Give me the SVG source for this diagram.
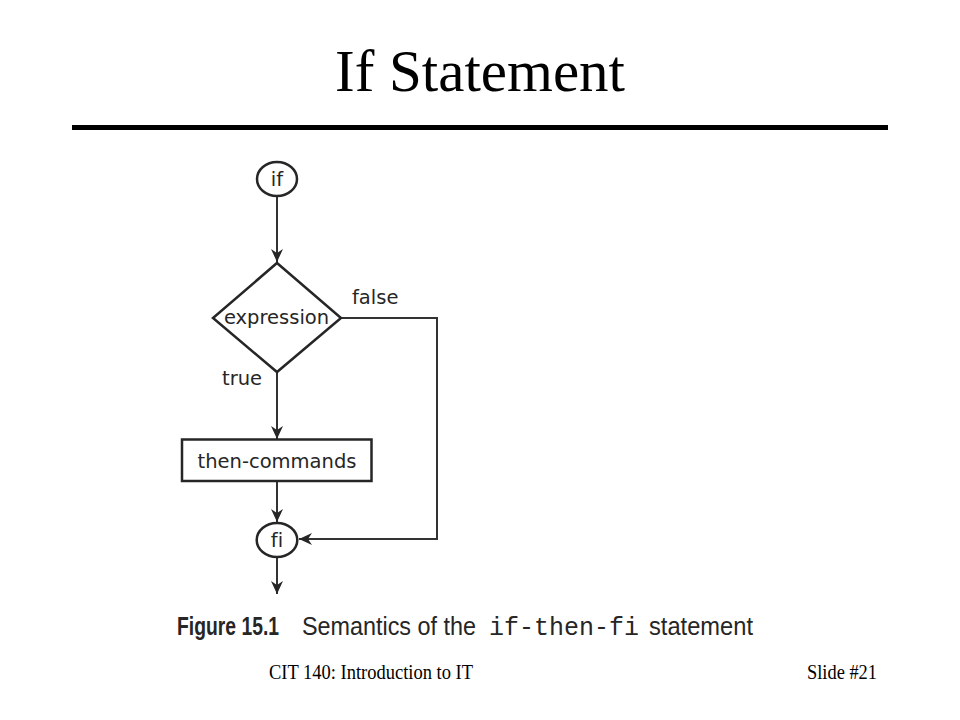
<svg xmlns="http://www.w3.org/2000/svg" width="960" height="720" viewBox="0 0 960 720">
  <style>
    .title { font-family: "Liberation Serif", "Times New Roman", serif; font-size: 59px; fill: #000; }
    .foot { font-family: "Liberation Serif", "Times New Roman", serif; font-size: 20px; fill: #000; }
    .lbl { font-family: "DejaVu Sans", Verdana, sans-serif; font-size: 19.5px; fill: #262626; }
    .cap { font-family: "Liberation Sans", Arial, sans-serif; font-size: 25px; fill: #262626; }
    .capb { font-family: "Liberation Sans", Arial, sans-serif; font-size: 25px; font-weight: bold; fill: #262626; }
    .mono { font-family: "Liberation Mono", "Courier New", monospace; font-size: 26px; fill: #262626; }
    .shape { fill: #fff; stroke: #262626; stroke-width: 2.5; }
    .conn { fill: none; stroke: #333; stroke-width: 2; }
  </style>
  <defs>
    <marker id="arr" markerUnits="userSpaceOnUse" markerWidth="16" markerHeight="14" refX="13" refY="6" orient="auto">
      <path d="M0,0 L13,6 L0,12 L4,6 z" fill="#262626"/>
    </marker>
  </defs>
  <rect width="960" height="720" fill="#fff"/>

  <text class="title" x="480" y="91" text-anchor="middle">If Statement</text>
  <rect x="72" y="125" width="816" height="5" fill="#000"/>

  <g id="connectors">
    <line class="conn" x1="277" y1="196" x2="277" y2="262" marker-end="url(#arr)"/>
    <line class="conn" x1="277" y1="372" x2="277" y2="439" marker-end="url(#arr)"/>
    <line class="conn" x1="277" y1="481" x2="277" y2="522" marker-end="url(#arr)"/>
    <polyline class="conn" points="340,318 437,318 437,539 299,539" marker-end="url(#arr)"/>
    <line class="conn" x1="277" y1="557" x2="277" y2="594" marker-end="url(#arr)"/>
    <text class="lbl" x="352" y="304">false</text>
    <text class="lbl" x="222" y="385">true</text>
  </g>

  <g id="node-if">
    <ellipse class="shape" cx="277" cy="179" rx="20" ry="17"/>
    <text class="lbl" x="277" y="186" text-anchor="middle">if</text>
  </g>
  <g id="node-expression">
    <polygon class="shape" points="277,263 341,318 277,372 213,318"/>
    <text class="lbl" x="276.5" y="324" text-anchor="middle">expression</text>
  </g>
  <g id="node-then">
    <rect class="shape" x="182" y="439.5" width="189.5" height="41.5"/>
    <text class="lbl" x="277" y="468" text-anchor="middle">then-commands</text>
  </g>
  <g id="node-fi">
    <ellipse class="shape" cx="277" cy="540" rx="20.3" ry="17"/>
    <text class="lbl" x="277" y="547" text-anchor="middle" style="font-variant-ligatures: none">fi</text>
  </g>

  <g id="caption">
    <text class="capb" x="177" y="635" textLength="102" lengthAdjust="spacingAndGlyphs">Figure 15.1</text>
    <text class="cap" x="302" y="635" textLength="174" lengthAdjust="spacingAndGlyphs">Semantics of the</text>
    <text class="mono" x="489" y="635" textLength="150" lengthAdjust="spacingAndGlyphs">if-then-fi</text>
    <text class="cap" x="649" y="635" textLength="104" lengthAdjust="spacingAndGlyphs">statement</text>
  </g>

  <g id="footer">
    <text class="foot" x="269" y="679" textLength="204" lengthAdjust="spacingAndGlyphs">CIT 140: Introduction to IT</text>
    <text class="foot" x="807" y="679" textLength="70" lengthAdjust="spacingAndGlyphs">Slide #21</text>
  </g>
</svg>
